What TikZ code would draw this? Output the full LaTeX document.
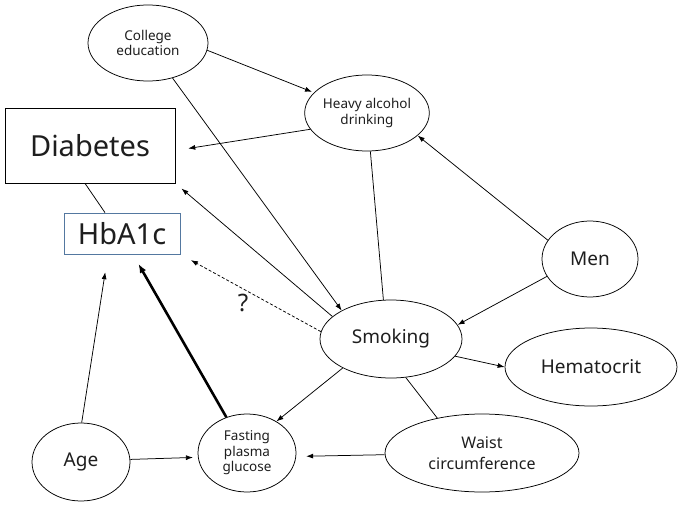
\documentclass[tikz,border=0pt]{standalone}
\usepackage{fontspec}
\setmainfont{Noto Sans}
\usetikzlibrary{shapes.geometric,arrows.meta}
\definecolor{hbblue}{RGB}{84,120,160}
\definecolor{txt}{RGB}{30,30,30}
\begin{document}
\begin{tikzpicture}[x=1pt,y=-1pt,
  ell/.style={ellipse,draw,line width=0.75pt,inner sep=0pt,align=center,text=txt},
  small/.style={font=\fontsize{13.5}{15.5}\selectfont},
  mid/.style={font=\fontsize{19}{22}\selectfont},
  arr/.style={line width=0.75pt,-{Latex[length=7pt,width=5pt]}},
  lin/.style={line width=0.75pt}]
\useasboundingbox (0,0) rectangle (683,506);
% nodes
\node[ell,small,minimum width=120pt,minimum height=76pt] (coll) at (148,43) {College\\education};
\node[ell,small,minimum width=100pt,minimum height=76pt] (heavy) at (367,113) {Heavy alcohol\\drinking};
\node[draw,line width=0.75pt,minimum width=170pt,minimum height=75pt,inner sep=0pt,text=txt,font=\fontsize{29}{34}\selectfont] (dia) at (90,145.5) {Diabetes};
\node[draw=hbblue,line width=0.75pt,minimum width=116pt,minimum height=41pt,inner sep=0pt,text=txt,font=\fontsize{29}{34}\selectfont] (hb) at (122,233.5) {HbA1c};
\node[ell,mid,minimum width=96pt,minimum height=76pt] (men) at (590,259) {Men};
\node[ell,mid,minimum width=142pt,minimum height=78pt] (smk) at (391,339) {Smoking};
\node[ell,mid,minimum width=172pt,minimum height=78pt] (hct) at (591,367) {Hematocrit};
\node[ell,font=\fontsize{16}{21}\selectfont,minimum width=194pt,minimum height=78pt] (waist) at (482,453) {Waist\\circumference};
\node[ell,small,minimum width=98pt,minimum height=78pt] (fpg) at (247,453) {Fasting\\plasma\\glucose};
\node[ell,mid,minimum width=98pt,minimum height=78pt] (age) at (81,462) {Age};
\node[text=txt,font=\fontsize{24}{28}\selectfont] (q) at (243,303) {?};
% connectors
\draw[arr,shorten >=2pt] (coll.-7) -- (heavy.159);
\draw[arr,shorten >=13pt] (heavy.196) -- ([yshift=-5pt]dia.east);
\draw[arr] (coll.-55) -- (smk.150);
\draw[arr,shorten >=8pt] (smk.159) -- (dia.south east);
\draw[arr,dashed,dash pattern=on 3pt off 2pt,shorten >=12pt] (smk.174) -- (hb.south east);
\draw[lin] (heavy.-85) -- (smk.101);
\draw[arr] (men.156) -- (heavy.-24);
\draw[arr] (men.202) -- (smk.12);
\draw[arr] (smk.-15) -- (hct.180);
\draw[lin] (smk.-69) -- (waist.142);
\draw[arr] (smk.-149) -- (fpg.47);
\draw[arr,shorten >=10pt] (waist.181) -- (fpg.-4);
\draw[arr,shorten >=5pt] (age.3) -- (fpg.185);
\draw[arr,shorten >=18pt] (age.89) -- ([xshift=-14pt]hb.south);
\draw[line width=2.6pt,-{Latex[length=9pt,width=7pt]},shorten >=11pt] (fpg.120) -- ([xshift=11pt]hb.south);
\draw[lin] ([xshift=-5pt]dia.south) -- ([xshift=-17pt]hb.north);
\end{tikzpicture}
\end{document}
